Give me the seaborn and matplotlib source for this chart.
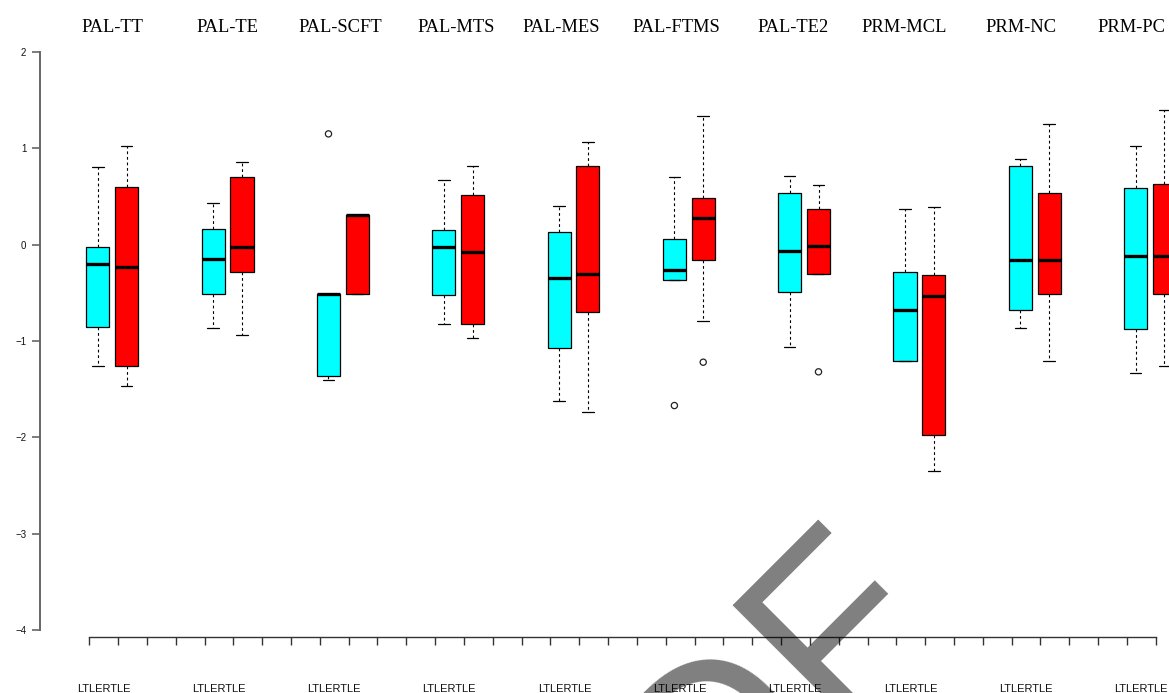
import numpy as np
import pandas as pd
import seaborn as sns
import matplotlib.pyplot as plt
import matplotlib.transforms as mtrans

groups = ["PAL-TT", "PAL-TE", "PAL-SCFT", "PAL-MTS", "PAL-MES",
          "PAL-FTMS", "PAL-TE2", "PRM-MCL", "PRM-NC", "PRM-PC"]
sides = ["LTLE", "RTLE"]
side_colors = ["#00FFFF", "#FF0000"]

# five-number summaries (lower whisker, Q1, median, Q3, upper whisker)
ltle_lo  = [-1.26, -0.86, -1.40, -0.82, -1.62, -0.37, -1.06, -1.21, -0.86, -1.33]
ltle_q1  = [-0.85, -0.51, -1.36, -0.52, -1.07, -0.37, -0.49, -1.21, -0.68, -0.88]
ltle_med = [-0.20, -0.15, -0.51, -0.02, -0.35, -0.26, -0.07, -0.68, -0.16, -0.12]
ltle_q3  = [-0.02,  0.16, -0.51,  0.15,  0.13,  0.06,  0.54, -0.28,  0.82,  0.59]
ltle_hi  = [ 0.81,  0.43, -0.51,  0.67,  0.40,  0.70,  0.71,  0.37,  0.89,  1.02]

rtle_lo  = [-1.47, -0.94, -0.51, -0.97, -1.74, -0.79, -0.30, -2.35, -1.21, -1.26]
rtle_q1  = [-1.26, -0.28, -0.51, -0.82, -0.70, -0.16, -0.30, -1.98, -0.51, -0.51]
rtle_med = [-0.23, -0.02,  0.31, -0.08, -0.30,  0.28, -0.01, -0.53, -0.16, -0.12]
rtle_q3  = [ 0.60,  0.70,  0.31,  0.52,  0.82,  0.48,  0.37, -0.31,  0.54,  0.63]
rtle_hi  = [ 1.02,  0.86,  0.31,  0.82,  1.07,  1.34,  0.62,  0.39,  1.25,  1.40]

# outliers
out_group = ["PAL-SCFT", "PAL-FTMS", "PAL-FTMS", "PAL-TE2"]
out_side  = ["LTLE", "LTLE", "RTLE", "RTLE"]
out_value = [1.15, -1.67, -1.22, -1.32]

# title x positions (in group units)
title_x = [0.00, 0.995, 1.975, 2.981, 3.891, 4.889, 5.904, 6.870, 7.880, 8.840]

rows = []
for side, summ in zip(sides, [(ltle_lo, ltle_q1, ltle_med, ltle_q3, ltle_hi),
                              (rtle_lo, rtle_q1, rtle_med, rtle_q3, rtle_hi)]):
    for i, g in enumerate(groups):
        for arr in summ:
            rows.append({"group": g, "side": side, "value": arr[i]})
df = pd.DataFrame(rows)

sns.set_theme(style="white")
plt.rcParams["font.family"] = ["Liberation Sans", "DejaVu Sans"]

W, H = 1169, 693
fig = plt.figure(figsize=(W / 100, H / 100), dpi=100)
ax = fig.add_axes([40 / W, (H - 630) / H, (W - 40) / W, 578 / H])
ax.patch.set_alpha(0)

box_width = 0.5
sns.boxplot(data=df, x="group", y="value", hue="side", order=groups, hue_order=sides,
            palette=dict(zip(sides, side_colors)), saturation=1, width=box_width, gap=0.2,
            whis=(0, 100), showfliers=False, linecolor="black", linewidth=0.9,
            medianprops=dict(color="black", linewidth=2.4),
            whiskerprops=dict(color="black", linewidth=0.8, linestyle=(0, (2.5, 2.5))),
            capprops=dict(color="black", linewidth=0.9),
            legend=False, ax=ax)

# outliers as open circles
offs = {s: (i - 0.5) * box_width / 2 for i, s in enumerate(sides)}
ox = [groups.index(g) + offs[s] for g, s in zip(out_group, out_side)]
ax.scatter(ox, out_value, s=20, facecolors="none", edgecolors="#222222", linewidths=0.9, zorder=5)

ax.set_xlim((40 - 112.3) / 115.3, (W - 112.3) / 115.3)
ax.set_ylim(-4, 2)
ax.set_xlabel("")
ax.set_ylabel("")

for s in ["top", "right"]:
    ax.spines[s].set_visible(False)
ax.spines["left"].set_bounds(-4, 2)
ax.spines["left"].set_color("#666666")
ax.spines["left"].set_linewidth(1.4)
ax.spines["bottom"].set_position(("outward", 5))
ax.spines["bottom"].set_bounds(-0.2, 9.05)
ax.spines["bottom"].set_color("#333333")
ax.spines["bottom"].set_linewidth(1.0)

ax.set_yticks([-4, -3, -2, -1, 0, 1, 2])
ax.set_xticks(-0.2 + 0.25 * np.arange(38))
ax.set_xticklabels([])
ax.tick_params(axis="y", left=True, direction="out", length=5.8, width=1.2, color="#666666",
               labelsize=7, labelcolor="#111111", pad=4)
ax.tick_params(axis="x", bottom=True, direction="out", length=5.8, width=1.0, color="#333333")

# group titles
tr = mtrans.blended_transform_factory(ax.transData, fig.transFigure)
for x, g in zip(title_x, groups):
    ax.text(x, (H - 32) / H, g, transform=tr, ha="center", va="baseline",
            fontsize=13.3, family="Liberation Serif", color="black", clip_on=False)

# bottom labels
for i in range(len(groups)):
    ax.text(i - 0.077, (H - 692) / H, "".join(sides), transform=tr, ha="center",
            va="baseline", fontsize=8, color="#111111", clip_on=False)

# watermark
fig.text(590.6 / W, (H - 968.6) / H, "PDF", rotation=45, rotation_mode="anchor",
         ha="left", va="baseline", fontsize=178.5, family="Liberation Sans",
         color="black", alpha=0.5)

fig.savefig("out.png", dpi=100)
